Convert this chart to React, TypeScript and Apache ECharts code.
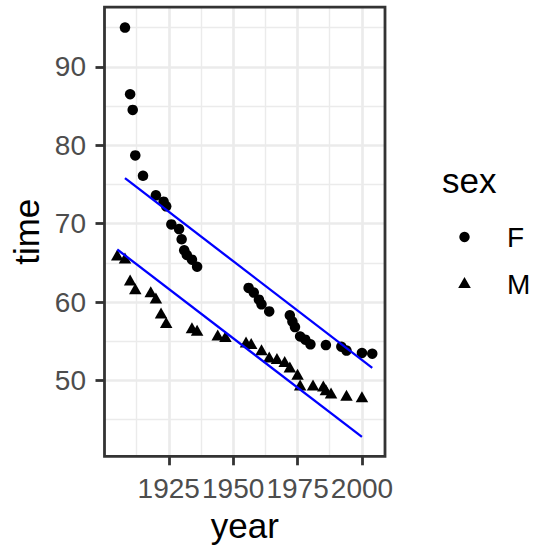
import React, { useEffect, useRef } from 'react';
import * as echarts from 'echarts';

// Swim records: 100m world records
const femaleYears = [1908, 1910, 1911, 1912, 1915, 1920, 1923, 1924, 1926, 1929, 1930, 1931, 1932, 1934, 1936, 1956, 1958, 1960, 1961, 1964, 1972, 1973, 1974, 1976, 1978, 1980, 1986, 1992, 1994, 2000, 2004];
const femaleTimes = [95.0, 86.5, 84.5, 78.7, 76.1, 73.6, 72.8, 72.2, 69.9, 69.3, 68.0, 66.6, 66.0, 65.4, 64.5, 61.8, 61.2, 60.3, 59.7, 58.8, 58.3, 57.5, 56.8, 55.6, 55.2, 54.6, 54.5, 54.3, 53.8, 53.5, 53.4];

const maleYears = [1905, 1908, 1910, 1912, 1918, 1920, 1922, 1924, 1934, 1936, 1944, 1947, 1955, 1957, 1961, 1964, 1967, 1970, 1972, 1975, 1976, 1981, 1985, 1986, 1988, 1994, 2000];
const maleTimes = [66.0, 65.6, 62.8, 61.7, 61.3, 60.5, 58.6, 57.4, 56.7, 56.4, 55.8, 55.6, 54.9, 54.7, 53.9, 53.0, 52.8, 52.4, 51.7, 50.8, 49.4, 49.4, 49.3, 48.8, 48.4, 48.1, 47.9];

// fitted lines (time ~ year + sex), endpoints
const fitYearsF = [1908, 2004];
const fitTimesF = [75.8, 51.6];
const fitYearsM = [1905, 2000];
const fitTimesM = [66.7, 42.8];

// axes
const xMajorTicks = [1925, 1950, 1975, 2000];
const xMinorTicks = [1912.5, 1937.5, 1962.5, 1987.5];
const yMajorTicks = [50, 60, 70, 80, 90];
const yMinorTicks = [45, 55, 65, 75, 85, 95];
const xLimits = [1900.05, 2008.95];
const yLimits = [40.32, 97.6];

const legendTitle = 'sex';
const legendLabels = ['F', 'M'];

const FONT = '"Liberation Sans", Arial, Helvetica, sans-serif';

export default function App() {
  const ref = useRef<HTMLDivElement>(null);

  useEffect(() => {
    if (!ref.current) return;
    const chart = echarts.init(ref.current, null, { renderer: 'svg' });

    const panel = { left: 104.5, top: 7.2, width: 280.5, height: 449.1 };
    const gridColor = '#EBEBEB';
    const gridLines = [
      ...xMinorTicks.map((v) => ({ xAxis: v, lineStyle: { width: 1.4, color: gridColor, type: 'solid' } })),
      ...yMinorTicks.map((v) => ({ yAxis: v, lineStyle: { width: 1.4, color: gridColor, type: 'solid' } })),
      ...xMajorTicks.map((v) => ({ xAxis: v, lineStyle: { width: 2.7, color: gridColor, type: 'solid' } })),
      ...yMajorTicks.map((v) => ({ yAxis: v, lineStyle: { width: 2.7, color: gridColor, type: 'solid' } })),
    ];

    const option: any = {
      animation: false,
      textStyle: { fontFamily: FONT },
      grid: { left: panel.left, top: panel.top, width: panel.width, height: panel.height, containLabel: false },
      xAxis: {
        type: 'value',
        min: xLimits[0],
        max: xLimits[1],
        name: 'year',
        nameLocation: 'middle',
        nameGap: 47,
        nameTextStyle: { fontSize: 35, color: '#000000', fontFamily: FONT },
        axisLine: { show: false },
        axisTick: { show: true, length: 9, customValues: xMajorTicks, lineStyle: { color: '#333333', width: 2.8 } },
        axisLabel: {
          show: true,
          customValues: xMajorTicks,
          showMinLabel: true,
          showMaxLabel: true,
          hideOverlap: false,
          formatter: (v: number) => String(v),
          margin: 18.5,
          fontSize: 28,
          color: '#4D4D4D',
          fontFamily: FONT,
        },
        splitLine: { show: false },
      },
      yAxis: {
        type: 'value',
        min: yLimits[0],
        max: yLimits[1],
        name: 'time',
        nameLocation: 'middle',
        nameRotate: 90,
        nameGap: 60,
        nameTextStyle: { fontSize: 35, color: '#000000', fontFamily: FONT },
        axisLine: { show: false },
        axisTick: { show: true, length: 9, customValues: yMajorTicks, lineStyle: { color: '#333333', width: 2.8 } },
        axisLabel: {
          show: true,
          customValues: yMajorTicks,
          showMinLabel: true,
          showMaxLabel: true,
          formatter: (v: number) => String(v),
          margin: 18.5,
          fontSize: 28,
          color: '#4D4D4D',
          fontFamily: FONT,
        },
        splitLine: { show: false },
      },
      series: [
        {
          name: 'F',
          type: 'scatter',
          z: 3,
          symbol: 'circle',
          symbolSize: 10.5,
          itemStyle: { color: '#000000', opacity: 1 },
          data: femaleYears.map((y, i) => [y, femaleTimes[i]]),
          markLine: {
            z: 1,
            silent: true,
            symbol: ['none', 'none'],
            label: { show: false },
            emphasis: { disabled: true },
            data: gridLines,
          },
        },
        {
          name: 'M',
          type: 'scatter',
          z: 3,
          symbol: 'triangle',
          symbolSize: [12.5, 11],
          itemStyle: { color: '#000000', opacity: 1 },
          data: maleYears.map((y, i) => [y, maleTimes[i]]),
        },
        {
          name: 'fitF',
          type: 'line',
          z: 4,
          showSymbol: false,
          symbol: 'none',
          lineStyle: { color: '#0000FF', width: 2.3 },
          data: fitYearsF.map((y, i) => [y, fitTimesF[i]]),
        },
        {
          name: 'fitM',
          type: 'line',
          z: 4,
          showSymbol: false,
          symbol: 'none',
          lineStyle: { color: '#0000FF', width: 2.3 },
          data: fitYearsM.map((y, i) => [y, fitTimesM[i]]),
        },
      ],
      graphic: [
        {
          type: 'rect',
          silent: true,
          z: 100,
          shape: { x: panel.left, y: panel.top, width: panel.width, height: panel.height },
          style: { fill: 'none', stroke: '#333333', lineWidth: 2.8 },
        },
        {
          type: 'text',
          silent: true,
          x: 442,
          y: 180,
          style: { text: legendTitle, fontSize: 35, fontFamily: FONT, fill: '#000000', textAlign: 'left', textVerticalAlign: 'middle' },
        },
        {
          type: 'circle',
          silent: true,
          shape: { cx: 464.5, cy: 237, r: 5.2 },
          style: { fill: '#000000' },
        },
        {
          type: 'polygon',
          silent: true,
          shape: { points: [[464.5, 277], [470.8, 288], [458.2, 288]] },
          style: { fill: '#000000' },
        },
        {
          type: 'text',
          silent: true,
          x: 507,
          y: 237.5,
          style: { text: legendLabels[0], fontSize: 28, fontFamily: FONT, fill: '#000000', textAlign: 'left', textVerticalAlign: 'middle' },
        },
        {
          type: 'text',
          silent: true,
          x: 507,
          y: 284,
          style: { text: legendLabels[1], fontSize: 28, fontFamily: FONT, fill: '#000000', textAlign: 'left', textVerticalAlign: 'middle' },
        },
      ],
    };

    chart.setOption(option);
    return () => chart.dispose();
  }, []);

  return (
    <div
      ref={ref}
      style={{ position: 'absolute', left: 0, top: 0, width: 533, height: 548, background: '#FFFFFF' }}
    />
  );
}
